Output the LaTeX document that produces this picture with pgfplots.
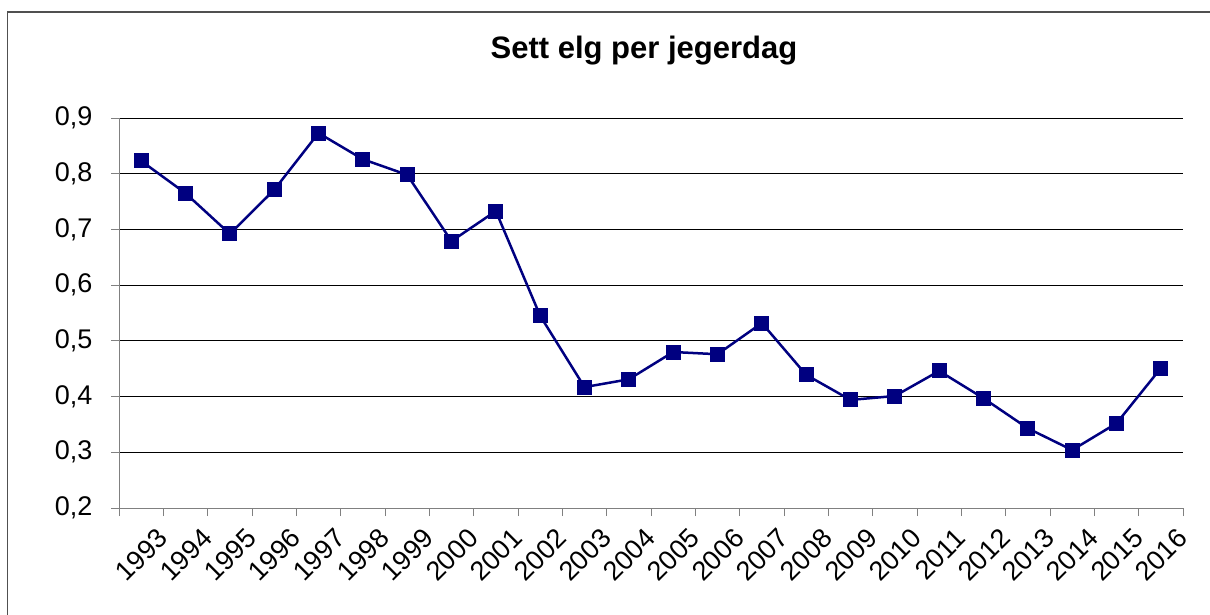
\documentclass[border=0pt]{standalone}
\usepackage{fontspec}
\setmainfont{Liberation Sans}
\usepackage{pgfplots}
\pgfplotsset{compat=1.18}
\definecolor{navyline}{HTML}{000080}
\definecolor{axisgrey}{HTML}{808080}
\definecolor{framegrey}{HTML}{505050}
\begin{document}
\begin{tikzpicture}[x=1pt,y=1pt]
\path[use as bounding box] (0,0) rectangle (1210,614);
\draw[framegrey,line width=1.5pt] (7.5,-5) -- (7.5,602) -- (1215,602);
\node[font=\fontsize{31}{36}\selectfont\bfseries] at (644,563) {Sett elg per jegerdag};
\begin{axis}[
  at={(119pt,106pt)}, anchor=south west,
  width=1064pt, height=390pt, scale only axis,
  xmin=-0.5, xmax=23.5, ymin=0.2, ymax=0.9,
  axis line style={axisgrey, line width=1pt},
  axis x line*=bottom, axis y line*=left,
  xtick={0,...,23},
  xticklabels={1993,1994,1995,1996,1997,1998,1999,2000,2001,2002,2003,2004,2005,2006,2007,2008,2009,2010,2011,2012,2013,2014,2015,2016},
  minor xtick={-0.5,0.5,...,23.5},
  major x tick style={draw=none},
  minor tick length=8pt,
  major tick length=8pt,
  tick align=outside,
  tick style={axisgrey, line width=1pt},
  ytick={0.2,0.3,...,0.9},
  ymajorgrids,
  major grid style={black, line width=0.9pt},
  /pgf/number format/assume math mode=true,
  /pgf/number format/use comma,
  /pgf/number format/fixed,
  /pgf/number format/fixed zerofill,
  /pgf/number format/precision=1,
  yticklabel style={font=\fontsize{27}{30}\selectfont, xshift=-15pt},
  xticklabel style={font=\fontsize{27}{30}\selectfont, rotate=45, anchor=north east, inner sep=0pt, xshift=3pt, yshift=-18pt},
  clip=false,
]
\addplot[navyline, line width=2.5pt, mark=square*, mark size=7pt, mark options={fill=navyline, draw=navyline, line width=0pt}] coordinates {
(0,0.823) (1,0.765) (2,0.692) (3,0.771) (4,0.873) (5,0.826) (6,0.798) (7,0.679)
(8,0.733) (9,0.545) (10,0.417) (11,0.431) (12,0.480) (13,0.476) (14,0.532) (15,0.439)
(16,0.394) (17,0.401) (18,0.446) (19,0.397) (20,0.343) (21,0.304) (22,0.352) (23,0.451)
};
\end{axis}
\end{tikzpicture}
\end{document}
